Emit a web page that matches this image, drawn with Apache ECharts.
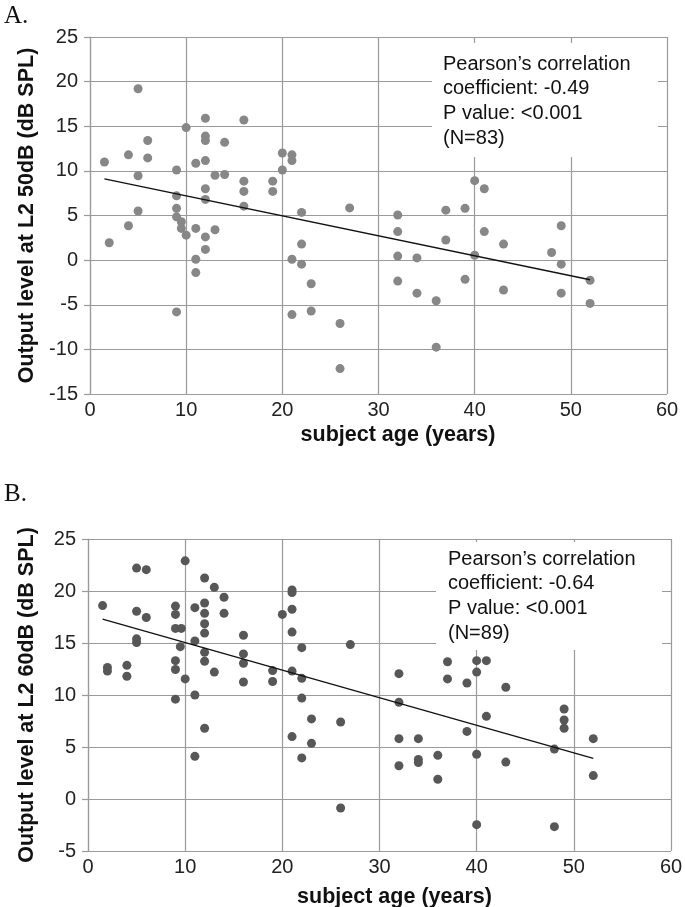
<!DOCTYPE html>
<html>
<head>
<meta charset="utf-8">
<script src="https://cdn.jsdelivr.net/npm/echarts@6/dist/echarts.min.js"></script>
<style>
  html, body { margin: 0; padding: 0; background: #fff; }
  #main { width: 685px; height: 907px; }
</style>
</head>
<body>
<div id="main"></div>
<script>
// panel A: output level at L2 50dB
const ageA = [1.5, 2, 4, 4, 5, 5, 5, 6, 6, 9, 9, 9, 9, 9, 9.5, 9.5, 10, 10, 11, 11, 11, 11,
  12, 12, 12, 12, 12, 12, 12, 12, 13, 13, 14, 14, 16, 16, 16, 16, 19, 19, 20, 20, 21, 21, 21, 21,
  22, 22, 22, 23, 23, 26, 26, 27, 32, 32, 32, 32, 34, 34, 36, 36, 37, 37, 39, 39, 40, 40, 41, 41,
  43, 43, 48, 49, 49, 49, 52, 52];
const levelA = [11.0, 1.95, 11.8, 3.85, 19.2, 9.45, 5.5, 13.4, 11.45, 10.1, 7.2, 5.8, 4.85, -5.8, 4.3, 3.55, 14.85, 2.8, 10.85, 3.55, 0.1, -1.4,
  15.9, 13.9, 13.4, 11.15, 8.0, 6.8, 2.6, 1.2, 9.5, 3.4, 13.2, 9.6, 15.7, 8.85, 7.7, 6.05, 8.85, 7.7, 12.0, 10.1, 11.8, 11.15, 0.1, -6.1,
  5.35, 1.8, -0.45, -2.65, -5.7, -7.1, -12.15, 5.85, 5.05, 3.2, 0.45, -2.35, 0.25, -3.7, -4.55, -9.75, 5.6, 2.25, 5.8, -2.15, 8.9, 0.55, 8.0, 3.2,
  1.8, -3.35, 0.85, 3.85, -0.45, -3.7, -2.25, -4.85];
const fitAgeA = [1.5, 52];
const fitLevelA = [9.1, -2.2];
const statsA = ["Pearson\u2019s correlation", "coefficient: -0.49", "P value: <0.001", "(N=83)"];

// panel B: output level at L2 60dB
const ageB = [1.5, 2, 2, 4, 4, 5, 5, 5, 5, 6, 6, 9, 9, 9, 9.6, 9.5, 9, 9, 9, 10, 10, 11, 11, 11, 11,
  12, 12, 12, 12, 12, 12, 12, 12, 13, 13, 14, 14, 16, 16, 16, 16, 19, 19, 20, 21, 21, 21, 21, 21, 21,
  22, 22, 22, 22, 23, 23, 26, 26, 27, 32, 32, 32, 32, 34, 34, 34, 36, 36, 37, 37, 39, 39, 40, 40, 40, 40,
  41, 41, 43, 43, 48, 48, 49, 49, 49, 52, 52];
const levelB = [18.6, 12.65, 12.3, 12.85, 11.8, 22.2, 18.05, 15.4, 15.05, 22.05, 17.45, 18.55, 17.75, 16.4, 16.4, 14.65, 13.3, 12.45, 9.6, 22.9, 11.55, 18.4, 15.2, 10.0, 4.1,
  21.25, 18.85, 17.85, 16.85, 15.95, 14.1, 13.25, 6.8, 20.35, 12.2, 19.4, 17.85, 15.75, 13.95, 13.05, 11.25, 12.35, 11.3, 17.75, 20.1, 19.85, 18.25, 16.05, 12.3, 6.0,
  14.55, 11.6, 9.7, 3.95, 7.7, 5.35, 7.4, -0.87, 14.85, 12.05, 9.3, 5.8, 3.2, 5.8, 3.8, 3.5, 4.2, 1.9, 13.2, 11.55, 11.15, 6.5, 13.3, 12.2, 4.3, -2.47,
  13.3, 7.95, 10.75, 3.55, 4.8, -2.66, 8.65, 7.6, 6.8, 5.8, 2.25];
const fitAgeB = [1.5, 52];
const fitLevelB = [17.3, 3.9];
const statsB = ["Pearson\u2019s correlation", "coefficient: -0.64", "P value: <0.001", "(N=89)"];

const xTicks = [0, 60, 10];

const zip = (xs, ys) => xs.map((x, i) => [x, ys[i]]);
const SANS = '"Liberation Sans", Arial, Helvetica, sans-serif';
const gridColor = '#9a9a9a';

let xAxisOpt = (idx, padLeft, gap) => ({
  type: 'value', gridIndex: idx, min: xTicks[0], max: xTicks[1], interval: xTicks[2],
  name: 'subject age (years)', nameLocation: 'middle', nameGap: gap,
  nameTextStyle: { fontFamily: SANS, fontWeight: 'bold', fontSize: 21.5, color: '#111', padding: [0, 0, 0, padLeft] },
  axisLine: { show: true, lineStyle: { color: gridColor, width: 1.2 } },
  axisTick: { show: false },
  axisLabel: { fontFamily: SANS, fontSize: 20, color: '#222', margin: 6 },
  splitLine: { show: true, lineStyle: { color: gridColor, width: 1.2 } }
});

let yAxisOpt = (idx, min, label, gap) => ({
  type: 'value', gridIndex: idx, min: min, max: 25, interval: 5,
  name: label, nameLocation: 'middle', nameGap: gap,
  nameTextStyle: { fontFamily: SANS, fontWeight: 'bold', fontSize: 21.5, color: '#111' },
  axisLine: { show: true, lineStyle: { color: gridColor, width: 1.2 } },
  axisTick: { show: true, inside: false, length: 6, lineStyle: { color: gridColor, width: 1.2 } },
  axisLabel: { fontFamily: SANS, fontSize: 20, color: '#222', margin: 12 },
  splitLine: { show: true, lineStyle: { color: gridColor, width: 1.2 } }
});

let statBox = (x, y, w, h, tx, ty, lines) => [
  { type: 'rect', left: x, top: y, z: 5, shape: { width: w, height: h }, style: { fill: '#fff' } },
  { type: 'text', left: tx, top: ty, z: 6,
    style: { text: lines.join('\n'), font: '20px ' + SANS, fill: '#111', lineHeight: 24.6 } }
];

const chart = echarts.init(document.getElementById('main'));
chart.setOption({
  backgroundColor: '#fff',
  animation: false,
  grid: [
    { left: 90, top: 37, width: 577, height: 357, outerBoundsMode: 'none', containLabel: false },
    { left: 88, top: 539, width: 583, height: 312, outerBoundsMode: 'none', containLabel: false }
  ],
  xAxis: [xAxisOpt(0, 39, 30), xAxisOpt(1, 30, 35)],
  yAxis: [
    yAxisOpt(0, -15, 'Output level at L2 50dB (dB SPL)', 52),
    yAxisOpt(1, -5, 'Output level at L2 60dB (dB SPL)', 50)
  ],
  graphic: [
    { type: 'text', left: 4, top: 4, style: { text: 'A.', font: '25px "Liberation Serif", "Times New Roman", serif', fill: '#111' } },
    { type: 'text', left: 4, top: 482, style: { text: 'B.', font: '25px "Liberation Serif", "Times New Roman", serif', fill: '#111' } },
    ...statBox(432, 43, 226, 114, 443, 52, statsA),
    ...statBox(436, 542, 226, 108, 448, 547, statsB)
  ],
  series: [
    {
      type: 'scatter', xAxisIndex: 0, yAxisIndex: 0, symbolSize: 9,
      itemStyle: { color: '#878787', opacity: 1 },
      data: zip(ageA, levelA)
    },
    {
      type: 'line', xAxisIndex: 0, yAxisIndex: 0, symbol: 'none', z: 3,
      lineStyle: { color: '#111', width: 1.3 },
      data: zip(fitAgeA, fitLevelA)
    },
    {
      type: 'scatter', xAxisIndex: 1, yAxisIndex: 1, symbolSize: 9,
      itemStyle: { color: '#575757', opacity: 1 },
      data: zip(ageB, levelB)
    },
    {
      type: 'line', xAxisIndex: 1, yAxisIndex: 1, symbol: 'none', z: 3,
      lineStyle: { color: '#111', width: 1.3 },
      data: zip(fitAgeB, fitLevelB)
    }
  ]
});
</script>
</body>
</html>
